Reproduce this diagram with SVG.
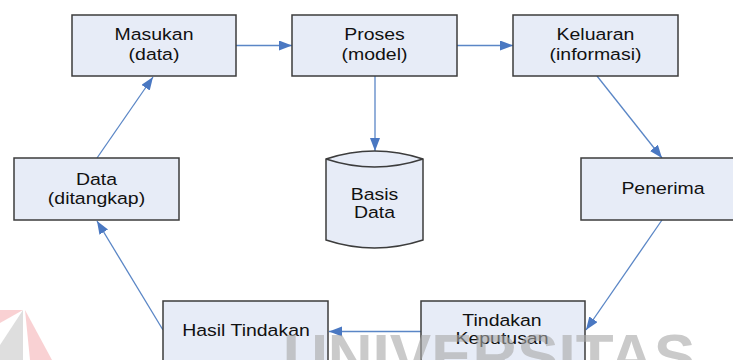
<svg xmlns="http://www.w3.org/2000/svg" width="733" height="360" viewBox="0 0 733 360">
<defs>
<style>
.box{fill:#e7ecf7;stroke:#3c3c3c;stroke-width:1.5}
.lbl{font-family:"Liberation Sans",Arial,sans-serif;font-size:16.5px;fill:#111;text-anchor:middle}
.con{stroke:#5a86c6;stroke-width:1.3;fill:none;marker-end:url(#ah)}
.wm{font-family:"Liberation Sans",Arial,sans-serif;font-size:62px;font-weight:bold;fill:#a8a8a8;opacity:0.6}
</style>
<marker id="ah" markerUnits="userSpaceOnUse" markerWidth="14" markerHeight="11" refX="13" refY="5" orient="auto">
<path d="M0,0 L13,5 L0,10 z" fill="#4a78c2"/>
</marker>
</defs>
<rect width="733" height="360" fill="#fff"/>
<g id="connectors">
<line class="con" x1="236" y1="45.5" x2="292" y2="45.5"/>
<line class="con" x1="457" y1="45.5" x2="513" y2="45.5"/>
<line class="con" x1="375" y1="76" x2="375" y2="151"/>
<line class="con" x1="597" y1="76" x2="662" y2="158"/>
<line class="con" x1="662" y1="220" x2="586" y2="330"/>
<line class="con" x1="421" y1="331.5" x2="329" y2="331.5"/>
<line class="con" x1="163" y1="330" x2="97" y2="221"/>
<line class="con" x1="97" y1="158" x2="153" y2="77"/>
</g>
<g id="masukan">
<rect class="box" x="72" y="15" width="164" height="61"/>
<g transform="translate(154,0) scale(1.18,1)"><text class="lbl" x="0" y="40.5">Masukan</text><text class="lbl" x="0" y="60.5">(data)</text></g>
</g>
<g id="proses">
<rect class="box" x="292" y="15" width="165" height="61"/>
<g transform="translate(374.5,0) scale(1.18,1)"><text class="lbl" x="0" y="40.5">Proses</text><text class="lbl" x="0" y="60.5">(model)</text></g>
</g>
<g id="keluaran">
<rect class="box" x="513" y="15" width="165" height="61"/>
<g transform="translate(595.5,0) scale(1.18,1)"><text class="lbl" x="0" y="40.5">Keluaran</text><text class="lbl" x="0" y="60.5">(informasi)</text></g>
</g>
<g id="basisdata">
<path class="box" d="M326,159 Q374.5,143 423,159 L423,240 Q374.5,256 326,240 Z"/>
<path d="M326,159 Q374.5,175 423,159" fill="none" stroke="#3c3c3c" stroke-width="1.5"/>
<g transform="translate(374.5,0) scale(1.18,1)"><text class="lbl" x="0" y="200">Basis</text><text class="lbl" x="0" y="218.5">Data</text></g>
</g>
<g id="penerima">
<rect class="box" x="581" y="158" width="164" height="62"/>
<g transform="translate(663,0) scale(1.18,1)"><text class="lbl" x="0" y="194.5">Penerima</text></g>
</g>
<g id="tindakan-keputusan">
<rect class="box" x="421" y="301" width="164" height="62"/>
<g transform="translate(502,0) scale(1.18,1)"><text class="lbl" x="0" y="326.5">Tindakan</text><text class="lbl" x="0" y="344.5">Keputusan</text></g>
</g>
<g id="hasil-tindakan">
<rect class="box" x="163" y="301" width="165" height="62"/>
<g transform="translate(246,0) scale(1.18,1)"><text class="lbl" x="0" y="336">Hasil Tindakan</text></g>
</g>
<g id="data-ditangkap">
<rect class="box" x="14" y="158" width="165" height="62"/>
<g transform="translate(96.5,0) scale(1.18,1)"><text class="lbl" x="0" y="185">Data</text><text class="lbl" x="0" y="204.5">(ditangkap)</text></g>
</g>
<g id="watermark">
<polygon points="0,310 23,310 0,323" fill="#f7c6c8" opacity="0.8"/>
<polygon points="23,310 0,345 0,360 23,360" fill="#d6d6d6" opacity="0.8"/>
<polygon points="25,310 52,360 30,360" fill="#f7c6c8" opacity="0.8"/>
<text class="wm" x="283" y="377">UNIVERSITAS</text>
</g>
</svg>
